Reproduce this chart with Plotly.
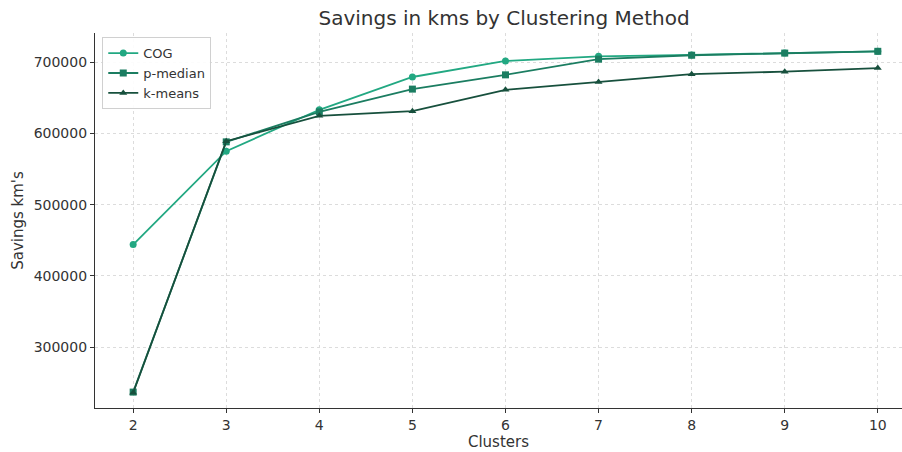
import plotly.graph_objects as go

clusters = [2, 3, 4, 5, 6, 7, 8, 9, 10]
cog = [444000, 575000, 633000, 679000, 701500, 708000, 710000, 712500, 715000]
p_median = [237000, 588000, 630000, 662000, 682000, 704000, 709500, 712500, 715000]
k_means = [236000, 589000, 624500, 631000, 661000, 672000, 683000, 686500, 691500]

names = ["COG", "p-median", "k-means"]
colors = ["#22a882", "#1b7d61", "#17503d"]
symbols = ["circle", "square", "triangle-up"]

fig = go.Figure()
for name, vals, c, s in zip(names, [cog, p_median, k_means], colors, symbols):
    fig.add_trace(go.Scatter(
        x=clusters, y=vals, name=name, mode="lines+markers",
        line=dict(color=c, width=1.8),
        marker=dict(symbol=s, size=7, color=c),
    ))

font = "DejaVu Sans, sans-serif"
fig.update_layout(
    width=902, height=452,
    margin=dict(l=95, r=0, t=33, b=44, autoexpand=False),
    plot_bgcolor="white", paper_bgcolor="white",
    font=dict(family=font, size=14, color="#333333"),
    title=dict(text="Savings in kms by Clustering Method", x=0.5588, xanchor="center",
               y=0.960, yanchor="middle", xref="container", yref="container",
               font=dict(size=20, color="#333333", family=font)),
    xaxis=dict(range=[1.59, 10.26], tickmode="array", tickvals=clusters,
               showgrid=True, gridcolor="#dcdcdc", griddash="3px,3px", gridwidth=1,
               showline=True, linecolor="#333333", linewidth=1.2,
               ticks="outside", ticklen=4, tickcolor="#333333",
               tickfont=dict(size=14),
               zeroline=False, title=dict(text="Clusters", standoff=4, font=dict(size=15))),
    yaxis=dict(range=[214700, 740700], tickvals=[300000, 400000, 500000, 600000, 700000],
               tickformat="d",
               showgrid=True, gridcolor="#dcdcdc", griddash="3px,3px", gridwidth=1,
               showline=True, linecolor="#333333", linewidth=1.2,
               ticks="outside", ticklen=4, tickcolor="#333333",
               tickfont=dict(size=14),
               zeroline=False, title=dict(text="Savings km's", standoff=6, font=dict(size=15))),
    legend=dict(x=0.009, y=0.989, xanchor="left", yanchor="top",
                bgcolor="rgba(255,255,255,0.9)", bordercolor="#d0d0d0", borderwidth=1,
                font=dict(size=13, color="#333333"), tracegroupgap=0, itemwidth=30),
    showlegend=True,
)
fig.write_html("out.html", config={"displayModeBar": False},
               post_script="document.body.style.margin='0';")
